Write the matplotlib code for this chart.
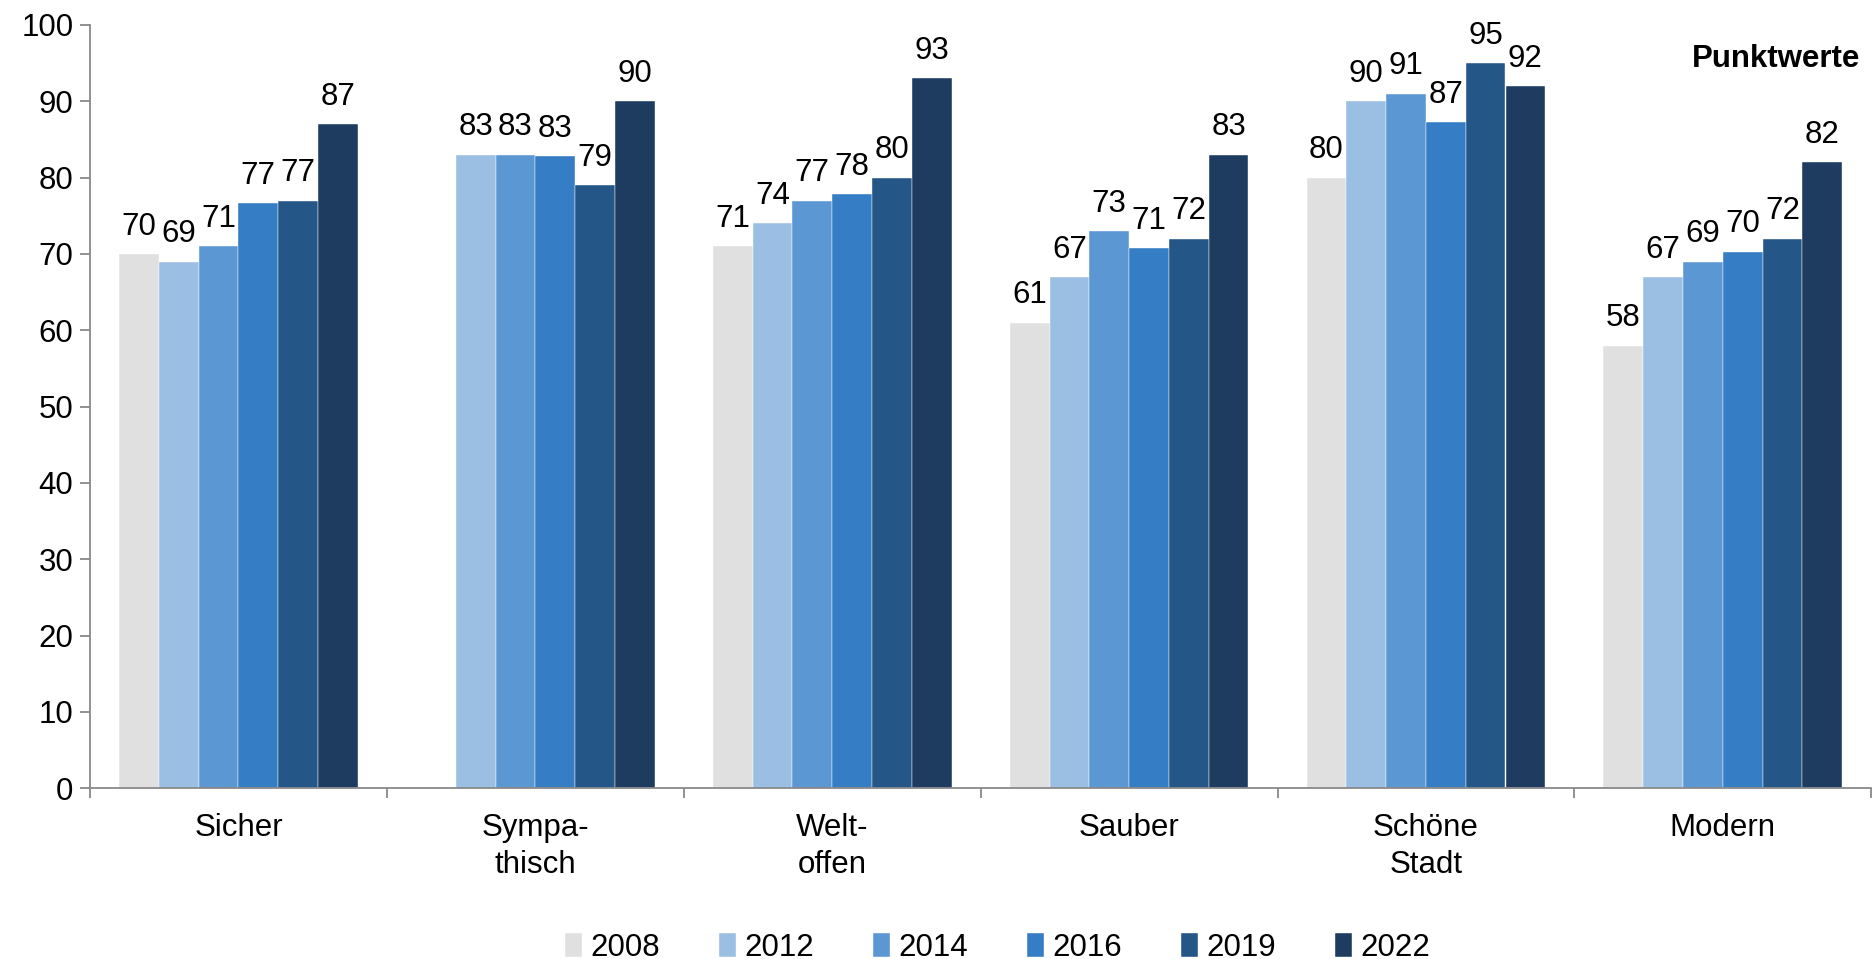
import numpy as np
import matplotlib
matplotlib.use("Agg")
import matplotlib.pyplot as plt

plt.rcParams['font.family'] = ['Liberation Sans', 'DejaVu Sans']

categories = ["Sicher", "Sympa-\nthisch", "Welt-\noffen", "Sauber", "Schöne\nStadt", "Modern"]
years = ["2008", "2012", "2014", "2016", "2019", "2022"]
v2008 = [70, np.nan, 71, 61, 80, 58]
v2012 = [69, 83, 74, 67, 90, 67]
v2014 = [71, 83, 77, 73, 91, 69]
v2016 = [76.7, 82.8, 77.8, 70.8, 87.3, 70.3]
v2019 = [77, 79, 80, 72, 95, 72]
v2022 = [87, 90, 93, 83, 92, 82]
series = [v2008, v2012, v2014, v2016, v2019, v2022]
colors = ["#e0e0e0", "#9abfe3", "#5b97d3", "#357dc4", "#245787", "#1e3c60"]

FS = 22.5

fig = plt.figure(figsize=(18.75, 9.59), dpi=100)
ax = fig.add_axes([0.048, 0.178, 0.950, 0.796])

n = len(categories)
x = np.arange(n)
w = 0.134
for i, (vals, c, yr) in enumerate(zip(series, colors, years)):
    pos = x + (i - 2.5) * w
    vals = np.array(vals, dtype=float)
    mask = ~np.isnan(vals)
    ax.bar(pos[mask], vals[mask], width=w, color=c, label=yr,
           edgecolor="#ffffff", linewidth=0.3)
    for p, v in zip(pos[mask], vals[mask]):
        ax.text(p, v + 1.6, f"{v:.0f}", ha="center", va="bottom", fontsize=FS)

ax.set_xlim(-0.5, n - 0.5)
ax.set_ylim(0, 100)
ax.set_yticks(range(0, 101, 10))
ax.set_xticks(x)
ax.set_xticklabels(categories, fontsize=FS, linespacing=1.3)
ax.set_xticks(np.arange(-0.5, n, 1), minor=True)
ax.tick_params(axis='x', which='major', length=0, pad=18)
ax.tick_params(axis='x', which='minor', length=7, width=1.3, color="#898989")
ax.tick_params(axis='y', length=7, width=1.3, color="#898989", labelsize=FS, pad=5)
for s in ["top", "right"]:
    ax.spines[s].set_visible(False)
for s in ["left", "bottom"]:
    ax.spines[s].set_color("#898989")
    ax.spines[s].set_linewidth(1.3)

ax.text(0.994, 0.975, "Punktwerte", transform=ax.transAxes, ha="right", va="top",
        fontsize=FS, fontweight="bold")

leg = fig.legend(loc="lower center", bbox_to_anchor=(0.532, -0.033), ncol=6, frameon=False,
                 fontsize=FS, handlelength=0.55, handleheight=0.8, handletextpad=0.25,
                 columnspacing=1.9)

fig.savefig("out.png", dpi=100)
